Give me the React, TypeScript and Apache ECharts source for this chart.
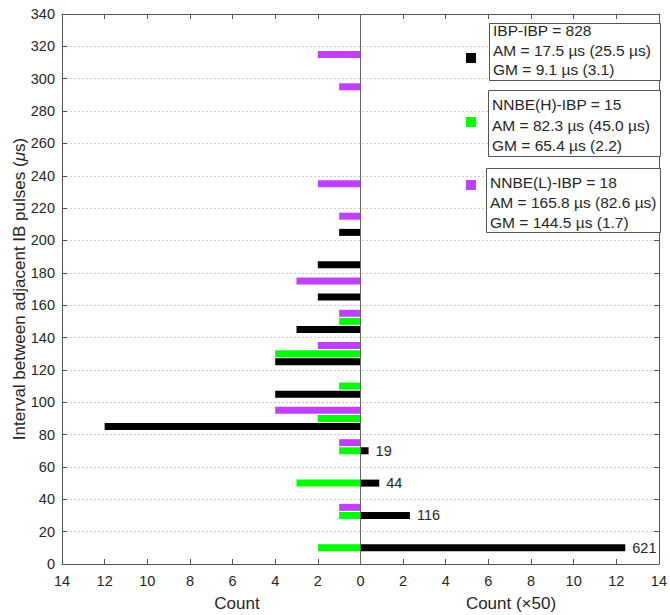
import React, { useEffect, useRef } from "react";
import * as echarts from "echarts";

// Interval bins (µs) and counts
const blackLeftY = [205, 185, 165, 145, 125, 105, 85];
const blackLeftCount = [1, 2, 2, 3, 4, 4, 12];
const greenY = [150, 130, 110, 90, 70, 50, 30, 10];
const greenCount = [1, 4, 1, 2, 1, 3, 1, 2];
const purpleY = [315, 295, 235, 215, 175, 155, 135, 95, 75, 35];
const purpleCount = [2, 1, 2, 1, 3, 1, 2, 4, 1, 1];
const blackRightY = [70, 50, 30, 10];
const blackRightCount = [19, 44, 116, 621];
const rightScale = 50;

const xTicks = [-14, 14, 2];
const yRange = [0, 340, 20];

const legendLines = [
  ["IBP-IBP = 828", "AM = 17.5 µs (25.5 µs)", "GM = 9.1 µs (3.1)"],
  ["NNBE(H)-IBP = 15", "AM = 82.3 µs (45.0 µs)", "GM = 65.4 µs (2.2)"],
  ["NNBE(L)-IBP = 18", "AM = 165.8 µs (82.6 µs)", "GM = 144.5 µs (1.7)"],
];
const legendColors = ["#000000", "#00ff00", "#bf40ff"];

const FONT = "'Liberation Sans', Arial, Helvetica, sans-serif";
const TXT = "#262626";
const AX = "#555555";

const yCats: string[] = [];
for (let v = 0; v <= 340; v += 5) yCats.push(String(v));

function toSeries(ys: number[], vals: number[]) {
  const arr: any[] = yCats.map(() => "-");
  ys.forEach((y, i) => {
    arr[yCats.indexOf(String(y))] = vals[i];
  });
  return arr;
}

export default function App() {
  const ref = useRef<HTMLDivElement>(null);
  useEffect(() => {
    if (!ref.current) return;
    const chart = echarts.init(ref.current, undefined, { renderer: "svg" });

    const boxes = [
      { x: 489, y: 23, w: 171, h: 57, lines: [30, 50, 69.5], tx: 493, sq: 58 },
      { x: 488, y: 90, w: 172, h: 66, lines: [104, 125, 145], tx: 492, sq: 122 },
      { x: 486, y: 168, w: 174, h: 64, lines: [182, 202, 222], tx: 490, sq: 185 },
    ];
    const graphics: any[] = [];
    boxes.forEach((b, k) => {
      graphics.push({
        type: "rect",
        shape: { x: b.x + 0.5, y: b.y + 0.5, width: b.w, height: b.h },
        style: { fill: "#ffffff", stroke: AX, lineWidth: 1 },
        z: 100,
      });
      legendLines[k].forEach((t, j) => {
        graphics.push({
          type: "text",
          x: b.tx,
          y: b.lines[j],
          style: {
            text: t,
            font: `15.5px ${FONT}`,
            fill: TXT,
            textAlign: "left",
            textVerticalAlign: "middle",
          },
          z: 101,
        });
      });
      graphics.push({
        type: "rect",
        shape: { x: 466, y: b.sq - 5, width: 10, height: 10 },
        style: { fill: legendColors[k] },
        z: 100,
      });
    });
    graphics.push({
      type: "text",
      x: 237,
      y: 603,
      style: { text: "Count", font: `17px ${FONT}`, fill: TXT, textAlign: "center", textVerticalAlign: "middle" },
    });
    graphics.push({
      type: "text",
      x: 511,
      y: 603,
      style: { text: "Count (×50)", font: `17px ${FONT}`, fill: TXT, textAlign: "center", textVerticalAlign: "middle" },
    });
    graphics.push({
      type: "text",
      x: 19,
      y: 289,
      rotation: Math.PI / 2,
      style: {
        text: "Interval between adjacent IB pulses ({i|μ}s)",
        font: `17px ${FONT}`,
        fill: TXT,
        textAlign: "center",
        textVerticalAlign: "middle",
        rich: { i: { fontStyle: "italic", fontSize: 17, fontFamily: FONT, fill: TXT, color: TXT } },
      },
    });

    const barBase = {
      type: "bar",
      xAxisIndex: 0,
      yAxisIndex: 0,
      barWidth: 7,
      barGap: "-100%",
    };

    chart.setOption({
      animation: false,
      grid: { left: 62, right: 10, top: 14, bottom: 51 },
      xAxis: [
        {
          type: "value",
          min: xTicks[0],
          max: xTicks[1],
          interval: xTicks[2],
          position: "bottom",
          axisLine: { show: true, onZero: false, lineStyle: { color: AX } },
          axisTick: { show: true, inside: true, length: 5, lineStyle: { color: AX } },
          axisLabel: {
            formatter: (v: number) => String(Math.abs(v)),
            color: TXT,
            fontSize: 14.5,
            fontFamily: FONT,
            margin: 9,
          },
          splitLine: { show: false },
        },
        {
          type: "value",
          min: xTicks[0],
          max: xTicks[1],
          interval: xTicks[2],
          position: "top",
          axisLine: { show: true, onZero: false, lineStyle: { color: AX } },
          axisTick: { show: true, inside: true, length: 5, lineStyle: { color: AX } },
          axisLabel: { show: false },
          splitLine: { show: false },
        },
      ],
      yAxis: [
        {
          type: "category",
          data: yCats,
          boundaryGap: false,
          position: "left",
          axisLine: { show: false },
          axisTick: { show: false },
          axisLabel: { show: false },
          splitLine: { show: false },
        },
        {
          type: "value",
          min: yRange[0],
          max: yRange[1],
          interval: yRange[2],
          position: "left",
          axisLine: { show: true, onZero: false, lineStyle: { color: AX } },
          axisTick: { show: true, inside: true, length: 5, lineStyle: { color: AX } },
          axisLabel: { color: TXT, fontSize: 14.5, fontFamily: FONT, margin: 7 },
          splitLine: { show: true, lineStyle: { color: "#cccccc", type: [2, 2], width: 1 } },
        },
        {
          type: "value",
          min: yRange[0],
          max: yRange[1],
          interval: yRange[2],
          position: "right",
          axisLine: { show: true, onZero: false, lineStyle: { color: AX } },
          axisTick: { show: true, inside: true, length: 5, lineStyle: { color: AX } },
          axisLabel: { show: false },
          splitLine: { show: false },
        },
      ],
      series: [
        {
          ...barBase,
          name: "IBP-IBP (left)",
          data: toSeries(blackLeftY, blackLeftCount.map((c) => -c)),
          itemStyle: { color: "#000000" },
          markLine: {
            silent: true,
            symbol: "none",
            label: { show: false },
            lineStyle: { color: "#666666", type: "solid", width: 1 },
            data: [{ xAxis: 0 }],
          },
        },
        {
          ...barBase,
          name: "NNBE(H)-IBP",
          data: toSeries(greenY, greenCount.map((c) => -c)),
          itemStyle: { color: "#00ff00" },
        },
        {
          ...barBase,
          name: "NNBE(L)-IBP",
          data: toSeries(purpleY, purpleCount.map((c) => -c)),
          itemStyle: { color: "#bf40ff" },
        },
        {
          ...barBase,
          name: "IBP-IBP (right)",
          data: toSeries(blackRightY, blackRightCount.map((c) => c / rightScale)),
          itemStyle: { color: "#000000" },
          label: {
            show: true,
            position: "right",
            distance: 7,
            color: TXT,
            fontSize: 14.5,
            fontFamily: FONT,
            formatter: (p: any) => {
              const i = blackRightY.indexOf(Number(p.name));
              return i >= 0 ? String(blackRightCount[i]) : "";
            },
          },
        },
      ],
      graphic: graphics,
    });

    return () => chart.dispose();
  }, []);

  return (
    <div
      ref={ref}
      style={{ position: "fixed", left: 0, top: 0, width: 670, height: 615, background: "#ffffff" }}
    />
  );
}
